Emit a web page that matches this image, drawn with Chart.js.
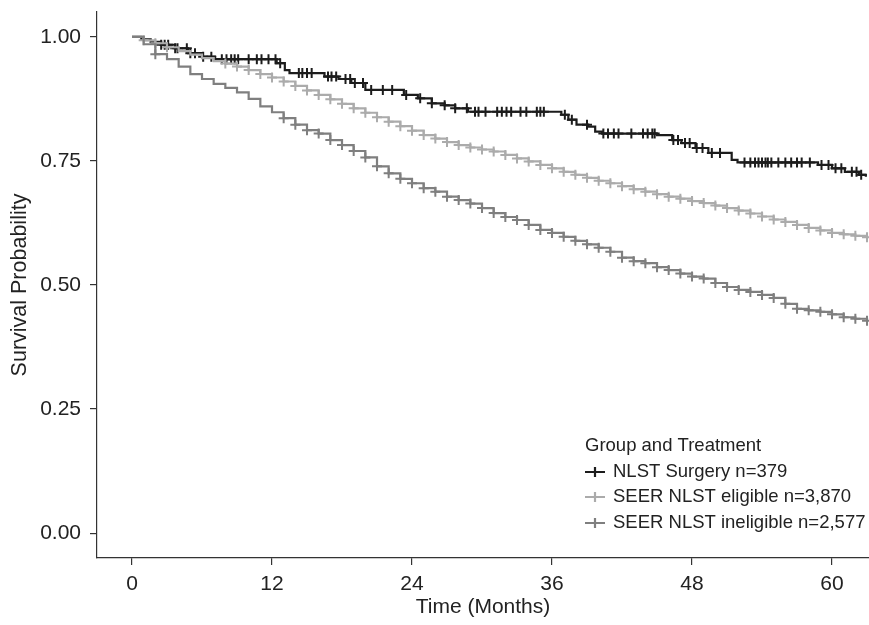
<!DOCTYPE html>
<html>
<head>
<meta charset="utf-8">
<script src="https://cdn.jsdelivr.net/npm/chart.js@4/dist/chart.umd.min.js"></script>
<style>
  html, body { margin: 0; padding: 0; background: #ffffff; }
  #wrap { width: 869px; height: 625px; position: relative; }
</style>
</head>
<body>
<div id="wrap"><canvas id="c" width="869" height="625"></canvas></div>
<script>
// ---------- DATA ----------
const xTicks = [0, 12, 24, 36, 48, 60];
const yTicks = [0, 0.25, 0.5, 0.75, 1.0];
const legendTitle = "Group and Treatment";
const seriesLabels = ["NLST Surgery n=379", "SEER NLST eligible n=3,870", "SEER NLST ineligible n=2,577"];

// NLST Surgery: step times (months) and survival after each step
const nlstTime = [0, 0.8, 1.6, 2.5, 3.7, 4.8, 6.0, 7.1, 12.4, 13.1, 13.5, 16.5, 17.7, 18.8, 20.0, 23.3, 24.5, 25.7, 26.8, 27.7, 28.8, 36.8, 37.4, 38.1, 39.1, 39.7, 40.3, 45.0, 46.3, 47.1, 48.3, 49.4, 51.4, 51.9, 58.8, 60.0, 61.1, 62.3, 62.9];
const nlstSurv = [1.000, 0.995, 0.990, 0.984, 0.977, 0.967, 0.960, 0.955, 0.947, 0.933, 0.927, 0.920, 0.915, 0.907, 0.893, 0.883, 0.876, 0.866, 0.862, 0.856, 0.849, 0.843, 0.833, 0.823, 0.819, 0.809, 0.805, 0.802, 0.792, 0.786, 0.776, 0.766, 0.752, 0.747, 0.742, 0.735, 0.728, 0.722, 0.718];
const nlstCensor = [2.5, 2.8, 3.1, 3.7, 3.9, 4.7, 5.0, 5.4, 6.1, 6.8, 7.7, 8.1, 8.5, 8.8, 9.1, 10.0, 10.7, 11.1, 11.7, 12.3, 12.7, 14.3, 14.6, 15.0, 15.4, 16.8, 17.1, 17.5, 18.3, 18.7, 19.1, 19.8, 20.5, 21.5, 22.3, 23.5, 24.7, 25.7, 26.8, 27.7, 28.7, 29.4, 29.7, 30.3, 31.3, 31.7, 32.1, 32.5, 33.3, 33.8, 34.7, 35.0, 35.3, 37.1, 37.7, 39.0, 40.4, 40.8, 41.3, 41.7, 42.8, 43.8, 44.2, 44.6, 44.8, 46.4, 46.8, 47.4, 47.8, 48.4, 48.9, 49.7, 50.4, 52.5, 53.0, 53.4, 53.7, 54.0, 54.3, 54.5, 54.8, 55.4, 56.0, 56.5, 57.0, 57.4, 58.1, 59.1, 59.7, 60.3, 60.8, 61.7, 62.1, 62.5];

// SEER NLST eligible: monthly survival
const eligTime = [0, 1, 2, 3, 4, 5, 6, 7, 8, 9, 10, 11, 12, 13, 14, 15, 16, 17, 18, 19, 20, 21, 22, 23, 24, 25, 26, 27, 28, 29, 30, 31, 32, 33, 34, 35, 36, 37, 38, 39, 40, 41, 42, 43, 44, 45, 46, 47, 48, 49, 50, 51, 52, 53, 54, 55, 56, 57, 58, 59, 60, 61, 62, 63];
const eligSurv = [1.000, 0.993, 0.987, 0.979, 0.971, 0.964, 0.957, 0.951, 0.946, 0.940, 0.933, 0.925, 0.918, 0.910, 0.901, 0.892, 0.883, 0.874, 0.865, 0.856, 0.847, 0.838, 0.829, 0.820, 0.811, 0.802, 0.795, 0.788, 0.782, 0.777, 0.773, 0.769, 0.762, 0.755, 0.749, 0.742, 0.735, 0.728, 0.722, 0.716, 0.710, 0.705, 0.699, 0.693, 0.688, 0.683, 0.678, 0.674, 0.669, 0.665, 0.660, 0.655, 0.650, 0.644, 0.638, 0.632, 0.627, 0.621, 0.615, 0.610, 0.605, 0.602, 0.599, 0.596];
const eligCensor = [1, 2, 3, 8, 9, 10, 11, 12, 13, 14, 15, 16, 17, 18, 19, 20, 21, 22, 23, 24, 25, 26, 27, 28, 29, 30, 31, 32, 33, 34, 35, 36, 37, 38, 39, 40, 41, 42, 43, 44, 45, 46, 47, 48, 49, 50, 51, 52, 53, 54, 55, 56, 57, 58, 59, 60, 61, 62, 63];

// SEER NLST ineligible: monthly survival
const inelTime = [0, 1, 2, 3, 4, 5, 6, 7, 8, 9, 10, 11, 12, 13, 14, 15, 16, 17, 18, 19, 20, 21, 22, 23, 24, 25, 26, 27, 28, 29, 30, 31, 32, 33, 34, 35, 36, 37, 38, 39, 40, 41, 42, 43, 44, 45, 46, 47, 48, 49, 50, 51, 52, 53, 54, 55, 56, 57, 58, 59, 60, 61, 62, 63];
const inelSurv = [1.000, 0.985, 0.965, 0.955, 0.940, 0.925, 0.915, 0.905, 0.897, 0.888, 0.875, 0.860, 0.848, 0.836, 0.823, 0.812, 0.805, 0.792, 0.782, 0.770, 0.757, 0.739, 0.725, 0.714, 0.705, 0.695, 0.688, 0.678, 0.671, 0.664, 0.655, 0.645, 0.637, 0.631, 0.621, 0.611, 0.605, 0.597, 0.589, 0.582, 0.575, 0.567, 0.555, 0.548, 0.544, 0.536, 0.530, 0.523, 0.517, 0.513, 0.504, 0.496, 0.490, 0.486, 0.480, 0.474, 0.462, 0.452, 0.449, 0.446, 0.441, 0.435, 0.432, 0.428];
const inelCensor = [2, 13, 14, 15, 16, 17, 18, 19, 20, 21, 22, 23, 24, 25, 26, 27, 28, 29, 30, 31, 32, 33, 34, 35, 36, 37, 38, 39, 40, 41, 42, 43, 44, 45, 46, 47, 48, 49, 50, 51, 52, 53, 54, 55, 56, 57, 58, 59, 60, 61, 62, 63];

// ---------- STYLE ----------
const colors = ["#1c1c1c", "#ababab", "#7f7f7f"];
const FONT = "'Liberation Sans', Arial, Helvetica, sans-serif";

function stepAt(times, vals, t) {
  let v = vals[0];
  for (let i = 0; i < times.length; i++) { if (times[i] <= t) v = vals[i]; else break; }
  return v;
}
function curve(times, vals) { return times.map((t, i) => ({ x: t, y: vals[i] })); }
function marks(times, vals, cens) { return cens.map(t => ({ x: t, y: stepAt(times, vals, t) })); }

const groups = [
  { t: nlstTime, s: nlstSurv, c: nlstCensor },
  { t: eligTime, s: eligSurv, c: eligCensor },
  { t: inelTime, s: inelSurv, c: inelCensor }
];

const datasets = [];
[2, 1, 0].forEach(i => {
  const g = groups[i];
  datasets.push({
    label: seriesLabels[i], type: 'line', data: curve(g.t, g.s),
    stepped: true, borderColor: colors[i], borderWidth: 2.2, pointRadius: 0,
    fill: false, tension: 0, order: 3 - i
  });
  datasets.push({
    label: seriesLabels[i] + ' censor', type: 'scatter', data: marks(g.t, g.s, g.c),
    pointStyle: 'cross', pointRadius: 5, pointBorderWidth: 2,
    borderColor: colors[i], backgroundColor: colors[i], showLine: false, order: 3 - i
  });
});

const legendPlugin = {
  id: 'kmLegend',
  afterDraw(chart) {
    const ctx = chart.ctx;
    ctx.save();
    ctx.font = "18.5px " + FONT;
    ctx.fillStyle = '#222';
    ctx.textBaseline = 'middle';
    ctx.textAlign = 'left';
    ctx.fillText(legendTitle, 585, 446);
    const ys = [472, 497, 523];
    seriesLabels.forEach((lab, i) => {
      const y = ys[i];
      ctx.strokeStyle = colors[i];
      ctx.lineWidth = 2.2;
      ctx.beginPath();
      ctx.moveTo(585, y); ctx.lineTo(605, y);
      ctx.moveTo(595, y - 5); ctx.lineTo(595, y + 5);
      ctx.stroke();
      ctx.fillStyle = '#222';
      ctx.fillText(lab, 613, y);
    });
    ctx.restore();
  }
};

new Chart(document.getElementById('c'), {
  type: 'line',
  data: { datasets },
  options: {
    responsive: false,
    animation: false,
    events: [],
    layout: { autoPadding: false, padding: { top: 0, right: 0, left: 0, bottom: 0 } },
    plugins: { legend: { display: false }, tooltip: { enabled: false } },
    scales: {
      x: {
        type: 'linear', min: -3, max: 63.17,
        afterBuildTicks: s => { s.ticks = xTicks.map(v => ({ value: v })); },
        afterFit: s => { s.height = 67; s.paddingLeft = 0; s.paddingRight = 0; },
        grid: { display: true, drawOnChartArea: false, drawTicks: true, tickLength: 7, color: '#333', lineWidth: 1.2 },
        border: { display: true, color: '#333', width: 1.2 },
        ticks: { color: '#222', font: { family: FONT, size: 21 }, padding: 7, maxRotation: 0 },
        title: { display: true, text: 'Time (Months)', color: '#222', font: { family: FONT, size: 21 }, padding: { top: 0, bottom: 5 } }
      },
      y: {
        type: 'linear', min: -0.05, max: 1.05,
        afterBuildTicks: s => { s.ticks = yTicks.map(v => ({ value: v })); },
        afterFit: s => { s.width = 97; s.paddingTop = 12; s.paddingBottom = 0; },
        grid: { display: true, drawOnChartArea: false, drawTicks: true, tickLength: 7, color: '#333', lineWidth: 1.2 },
        border: { display: true, color: '#333', width: 1.2 },
        ticks: { color: '#222', font: { family: FONT, size: 21 }, padding: 9, callback: v => Number(v).toFixed(2) },
        title: { display: true, text: 'Survival Probability', color: '#222', font: { family: FONT, size: 21.5 }, padding: { top: 7, bottom: 0 } }
      }
    }
  },
  plugins: [legendPlugin]
});
</script>
</body>
</html>
